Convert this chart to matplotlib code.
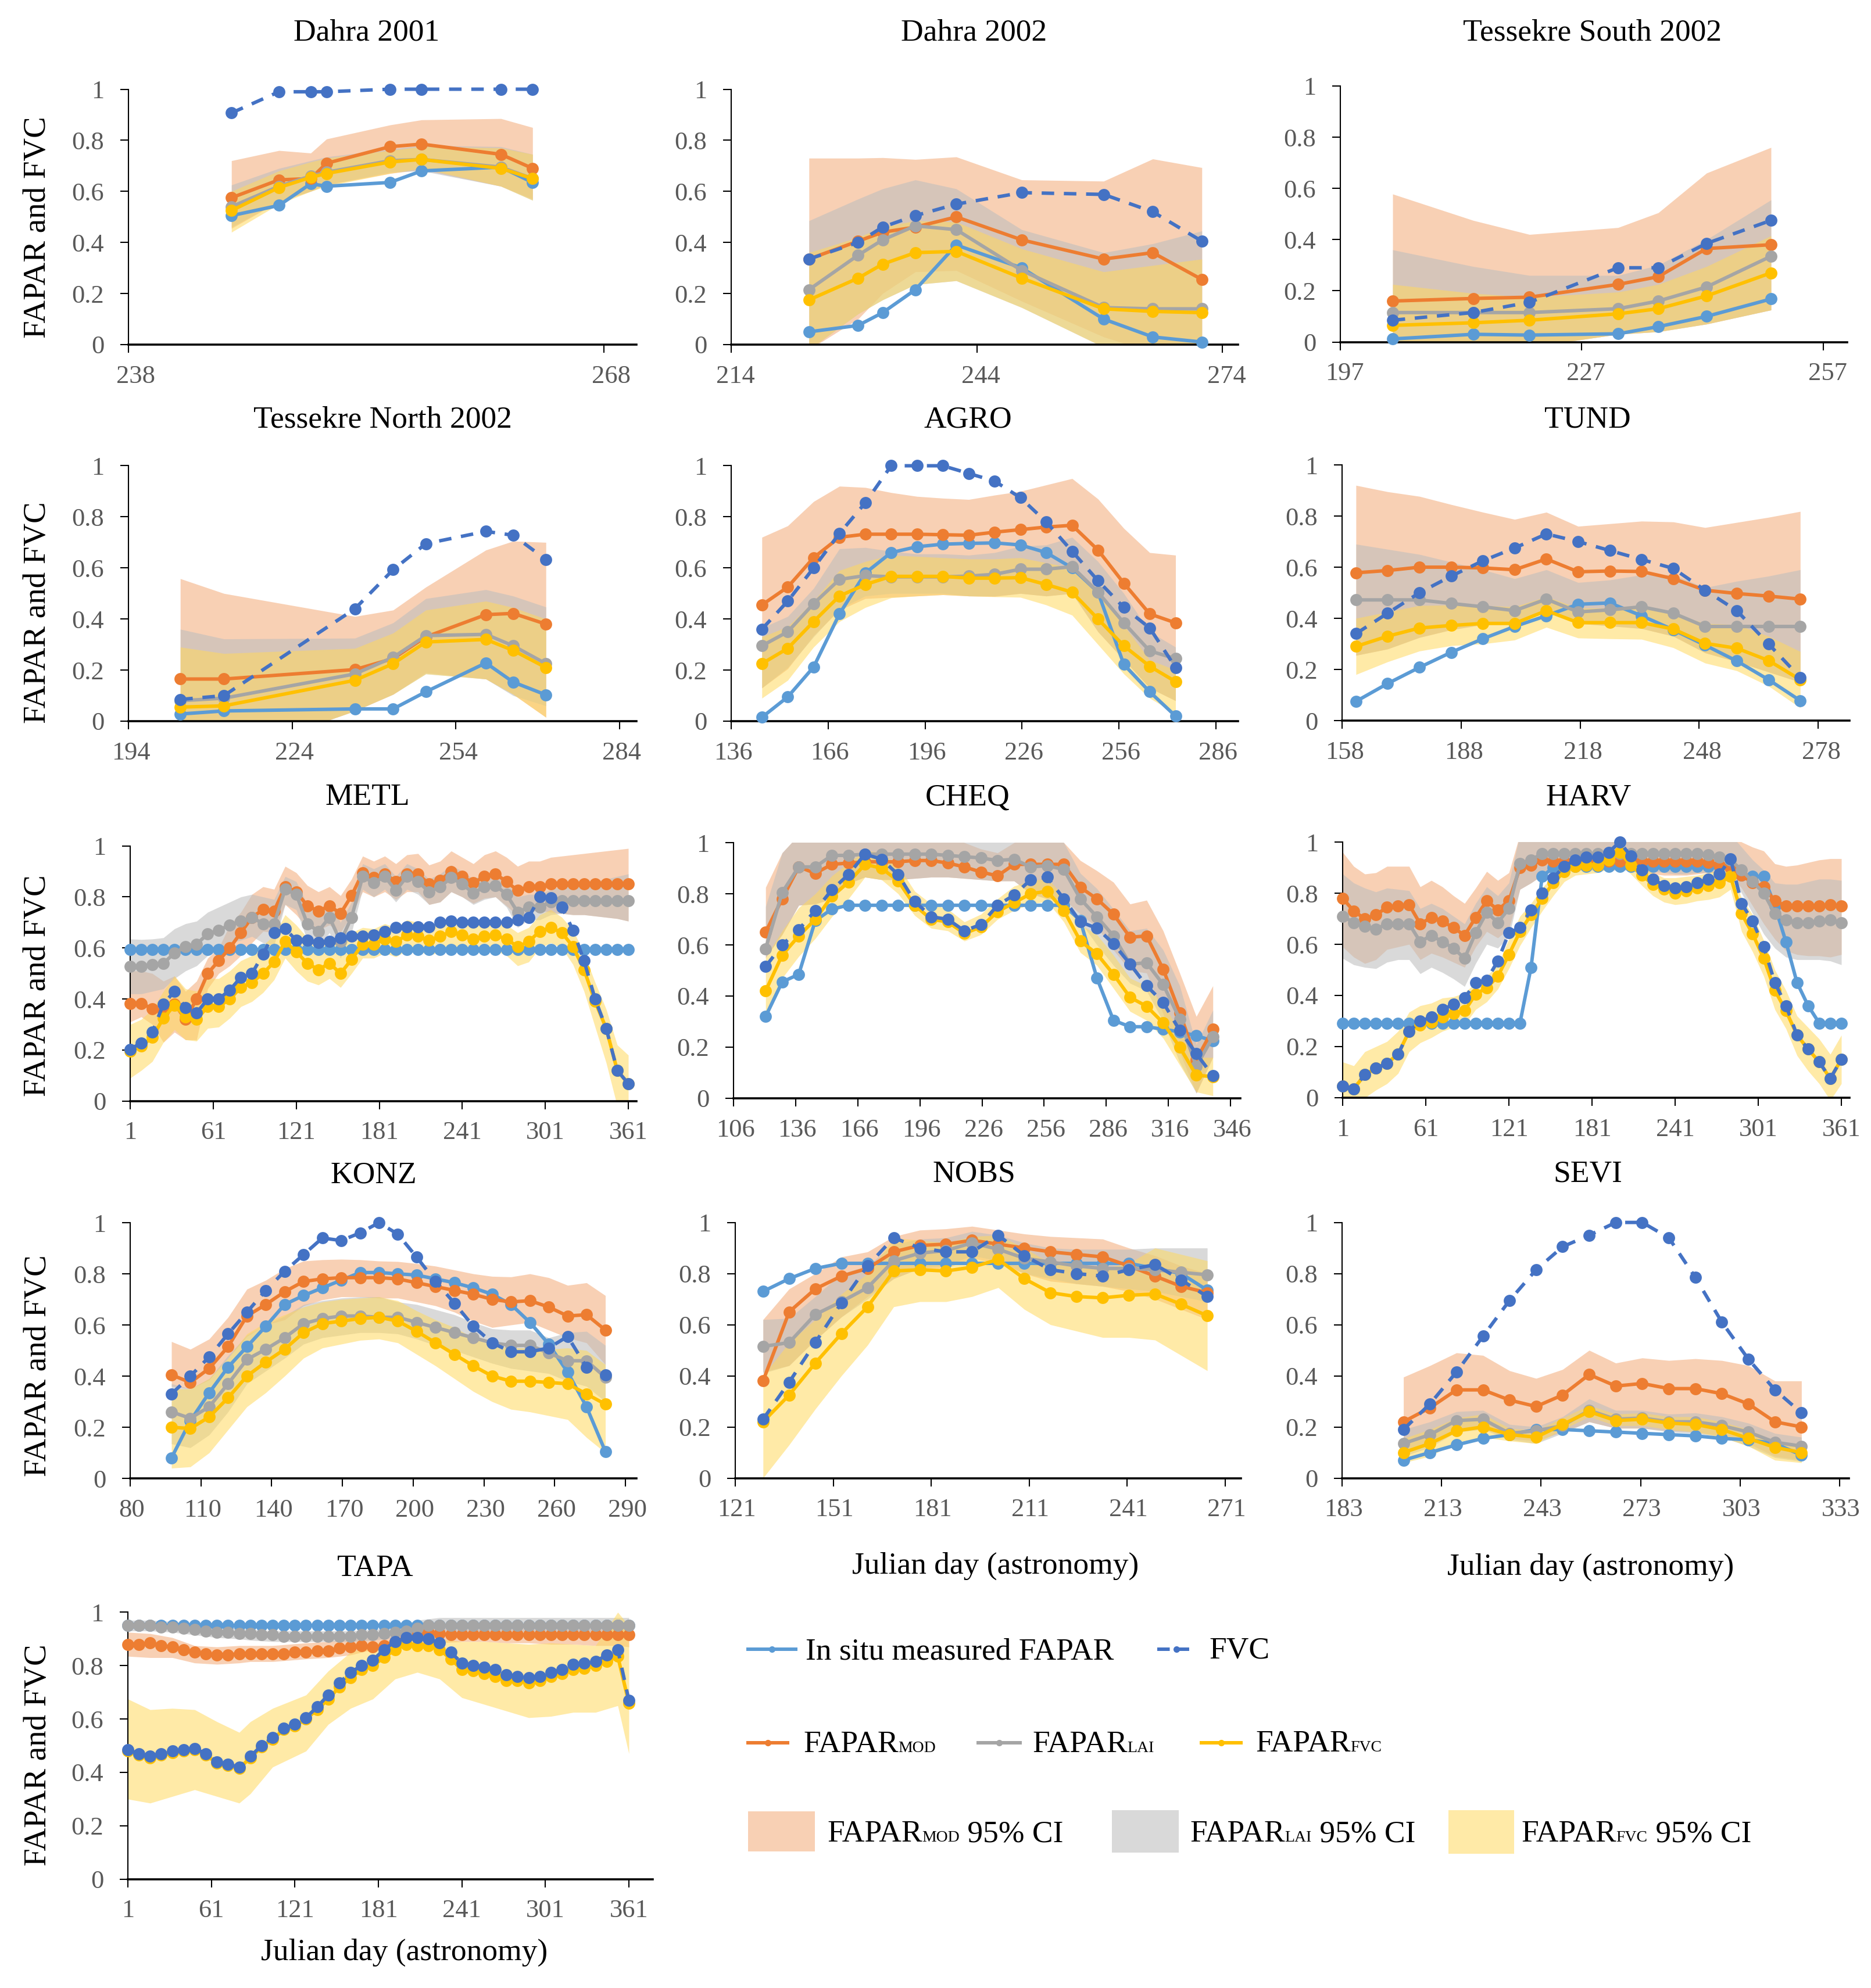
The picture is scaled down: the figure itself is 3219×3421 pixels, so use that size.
import matplotlib
matplotlib.use("Agg")
import matplotlib.pyplot as plt
import matplotlib.transforms as mtransforms
from matplotlib.patches import Rectangle

# colours
C_INSITU = '#5B9BD5'
C_FVC = '#4472C4'
C_MOD = '#ED7D31'
C_LAI = '#A5A5A5'
C_FF = '#FFC000'
C_TICK = '#595959'
# band fills, picked so the overlaps come out like the original
F_MOD, A_MOD = '#ED7D31', 0.36
F_LAI, A_LAI = '#BEBEBE', 0.58
F_FF, A_FF = '#FFD95F', 0.55

FIG_W, FIG_H = 3219, 3421

# --- Dahra 2001
dahra01_x = [244.5, 247.5, 249.5, 250.5, 254.5, 256.5, 261.5, 263.5]
dahra01_insitu = [.505, .545, .63, .62, .635, .68, .695, .635]
dahra01_fvc = [.907, .99, .99, .99, 1, 1, 1, 1]
dahra01_mod = [.575, .645, .65, .71, .775, .785, .745, .69]
dahra01_lai = [.54, .62, .66, .675, .72, .725, .695, .65]
dahra01_ff = [.525, .615, .655, .67, .715, .725, .69, .65]
dahra01_mod_hi = [.72, .76, .75, .805, .86, .88, .885, .85]
dahra01_mod_lo = [.455, .56, .60, .625, .67, .685, .62, .57]
dahra01_lai_hi = [.625, .69, .72, .735, .765, .78, .775, .745]
dahra01_lai_lo = [.46, .56, .60, .625, .675, .68, .62, .565]
dahra01_ff_hi = [.60, .68, .715, .73, .76, .775, .77, .745]
dahra01_ff_lo = [.44, .55, .60, .62, .67, .69, .62, .565]

# --- Dahra 2002
dahra02_x = [223.5, 229.5, 232.5, 236.5, 241.5, 249.5, 259.5, 265.5, 271.5]
dahra02_insitu = [.05, .075, .125, .215, .39, .30, .10, .03, .01]
dahra02_fvc = [.335, .40, .46, .505, .55, .595, .588, .52, .405]
dahra02_mod = [.335, .405, .44, .46, .50, .41, .335, .36, .255]
dahra02_lai = [.215, .35, .41, .465, .45, .29, .145, .14, .14]
dahra02_ff = [.175, .26, .315, .36, .365, .26, .14, .13, .125]
dahra02_mod_hi = [.73, .73, .732, .725, .735, .645, .64, .727, .693]
dahra02_mod_lo = [-.02, .10, .20, .285, .29, .17, .03, -.03, -.05]
dahra02_lai_hi = [.485, .57, .61, .645, .61, .45, .36, .395, .445]
dahra02_lai_lo = [-.02, .12, .175, .235, .25, .145, -.01, -.03, -.05]
dahra02_ff_hi = [.36, .42, .46, .485, .48, .375, .285, .31, .335]
dahra02_ff_lo = [-.02, .12, .175, .235, .25, .145, -.01, -.03, -.05]

# --- Tessekre South 2002
tess_s_x = [203.5, 213.5, 220.5, 231.5, 236.5, 242.5, 250.5]
tess_s_insitu = [.012, .03, .027, .032, .06, .10, .168]
tess_s_fvc = [.085, .115, .155, .29, .29, .385, .475]
tess_s_mod = [.16, .17, .175, .225, .255, .365, .38]
tess_s_lai = [.115, .115, .115, .13, .16, .215, .335]
tess_s_ff = [.065, .075, .085, .11, .13, .18, .27]
tess_s_mod_hi = [.578, .475, .42, .447, .505, .66, .76]
tess_s_mod_lo = [-.10, -.06, -.02, .03, .04, .07, .125]
tess_s_lai_hi = [.36, .295, .26, .26, .30, .40, .555]
tess_s_lai_lo = [-.10, -.06, -.02, .03, .04, .07, .125]
tess_s_ff_hi = [.225, .19, .175, .195, .225, .295, .415]
tess_s_ff_lo = [-.10, -.06, -.02, .03, .04, .07, .125]

# --- Tessekre North 2002
tess_n_x = [203.5, 211.5, 235.5, 242.5, 248.5, 259.5, 264.5, 270.5]
tess_n_insitu = [.028, .04, .048, .048, .115, .228, .153, .103]
tess_n_fvc = [.085, .10, .44, .593, .695, .743, .728, .633]
tess_n_mod = [.165, .165, .202, .245, .33, .417, .422, .38]
tess_n_lai = [.08, .09, .185, .25, .335, .34, .295, .225]
tess_n_ff = [.055, .06, .16, .225, .31, .32, .277, .21]
tess_n_mod_hi = [.558, .50, .41, .435, .525, .67, .705, .70]
tess_n_mod_lo = [-.30, -.14, .04, .105, .19, .165, .105, .015]
tess_n_lai_hi = [.36, .322, .325, .385, .48, .515, .49, .447]
tess_n_lai_lo = [-.30, -.14, .04, .105, .185, .165, .10, .06]
tess_n_ff_hi = [.29, .265, .285, .345, .435, .47, .445, .40]
tess_n_ff_lo = [-.30, -.14, .04, .105, .185, .165, .105, .015]

# --- AGRO
agro_x = [145.5, 153.5, 161.5, 169.5, 177.5, 185.5, 193.5, 201.5, 209.5, 217.5, 225.5, 233.5, 241.5, 249.5, 257.5, 265.5, 273.5]
agro_insitu = [.015, .095, .212, .42, .58, .66, .683, .693, .696, .698, .69, .66, .60, .505, .222, .115, .02]
agro_fvc = [.36, .47, .60, .735, .855, 1, 1, 1, .97, .94, .875, .78, .665, .55, .445, .365, .21]
agro_mod = [.455, .525, .64, .72, .732, .732, .732, .73, .728, .74, .75, .76, .767, .67, .54, .42, .385]
agro_lai = [.295, .35, .46, .555, .57, .565, .565, .565, .568, .575, .595, .595, .605, .505, .385, .275, .245]
agro_ff = [.225, .285, .39, .49, .535, .567, .567, .567, .56, .56, .562, .535, .505, .40, .295, .215, .155]
agro_mod_hi = [.72, .765, .86, .92, .915, .895, .88, .873, .868, .885, .90, .925, .95, .87, .755, .66, .65]
agro_mod_lo = [.13, .205, .335, .435, .48, .485, .49, .495, .49, .488, .50, .49, .50, .35, .24, .13, .08]
agro_lai_hi = [.365, .41, .52, .675, .68, .665, .655, .655, .65, .66, .685, .69, .72, .625, .50, .35, .29]
agro_lai_lo = [.13, .21, .33, .44, .49, .50, .50, .50, .49, .49, .50, .49, .50, .35, .24, .13, .08]
agro_ff_hi = [.33, .37, .47, .59, .625, .65, .645, .64, .635, .635, .64, .62, .60, .50, .375, .24, .20]
agro_ff_lo = [.09, .16, .29, .39, .445, .483, .49, .495, .49, .487, .485, .455, .415, .30, .185, .09, .03]

# --- TUND
tund_x = [161.5, 169.5, 177.5, 185.5, 193.5, 201.5, 209.5, 217.5, 225.5, 233.5, 241.5, 249.5, 257.5, 265.5, 273.5]
tund_insitu = [.075, .145, .208, .267, .32, .368, .41, .455, .46, .41, .355, .295, .233, .16, .078]
tund_fvc = [.34, .42, .50, .565, .625, .675, .73, .70, .665, .63, .595, .51, .43, .30, .168]
tund_mod = [.578, .587, .60, .60, .597, .59, .632, .582, .585, .583, .555, .51, .497, .487, .475]
tund_lai = [.472, .472, .472, .458, .445, .43, .475, .425, .433, .445, .42, .368, .368, .368, .368]
tund_ff = [.29, .33, .362, .372, .38, .38, .43, .383, .383, .383, .358, .302, .283, .235, .16]
tund_mod_hi = [.92, .895, .877, .845, .815, .787, .815, .76, .77, .78, .777, .755, .775, .795, .818]
tund_mod_lo = [.255, .28, .325, .355, .375, .385, .44, .38, .37, .36, .33, .265, .23, .19, .15]
tund_lai_hi = [.69, .67, .65, .62, .59, .555, .59, .54, .55, .57, .57, .52, .545, .565, .59]
tund_lai_lo = [.255, .28, .325, .355, .375, .385, .44, .38, .37, .36, .33, .265, .23, .19, .15]
tund_ff_hi = [.40, .425, .45, .452, .45, .445, .485, .44, .44, .445, .42, .38, .375, .33, .27]
tund_ff_lo = [.18, .23, .272, .293, .30, .315, .365, .323, .32, .318, .285, .225, .195, .135, .05]

# --- shared 8 day axis (METL, HARV, TAPA)
year_x = [1, 9, 17, 25, 33, 41, 49, 57, 65, 73, 81, 89, 97, 105, 113, 121, 129, 137, 145, 153, 161, 169, 177, 185,
          193, 201, 209, 217, 225, 233, 241, 249, 257, 265, 273, 281, 289, 297, 305, 313, 321, 329, 337, 345, 353, 361]

# --- METL
metl_insitu = [.593, .593, .593, .593, .593, .593, .593, .593, .593, .593, .593, .593, .593, .593, .593, .593, .593, .593, .593, .593, .593, .593, .593,
               .593, .593, .593, .593, .593, .593, .593, .593, .593, .593, .593, .593, .593, .593, .593, .593, .593, .593, .593, .593, .593, .593, .593]
metl_fvc = [.203, .228, .27, .38, .43, .365, .345, .40, .40, .435, .485, .50, .575, .66, .675, .63, .63, .62, .625, .64, .645, .645, .65,
            .665, .68, .683, .683, .683, .70, .705, .70, .70, .70, .70, .70, .71, .72, .80, .797, .76, .67, .55, .40, .285, .12, .068]
metl_mod = [.383, .383, .362, .35, .38, .32, .40, .50, .55, .60, .66, .72, .75, .745, .84, .82, .765, .745, .765, .735, .805, .895, .875,
            .89, .86, .89, .89, .85, .865, .90, .88, .855, .88, .89, .86, .825, .84, .84, .85, .85, .85, .85, .85, .85, .85, .85]
metl_lai = [.527, .527, .535, .54, .58, .605, .615, .655, .67, .69, .705, .72, .695, .695, .83, .81, .695, .665, .72, .625, .72, .88, .855,
            .88, .825, .88, .86, .82, .84, .875, .85, .815, .84, .845, .81, .74, .76, .76, .78, .785, .785, .785, .785, .785, .785, .785]
metl_ff = [.195, .215, .25, .325, .375, .33, .32, .37, .37, .40, .445, .465, .50, .545, .625, .585, .54, .515, .54, .50, .555, .615, .615,
           .635, .625, .65, .645, .63, .645, .665, .65, .635, .645, .65, .635, .605, .625, .665, .68, .66, .605, .515, .39, .285, .12, .068]
metl_mod_hi = [.51, .51, .50, .47, .49, .43, .47, .56, .60, .69, .74, .81, .84, .83, .92, .895, .845, .82, .84, .805, .87, .96, .94,
               .96, .93, .965, .97, .925, .94, .98, .955, .93, .965, .98, .955, .92, .94, .94, .955, .96, .965, .97, .975, .98, .985, .99]
metl_mod_lo = [.31, .33, .30, .23, .27, .24, .24, .44, .50, .53, .57, .62, .665, .66, .77, .73, .68, .67, .69, .66, .73, .82, .80,
               .82, .79, .82, .82, .77, .78, .82, .80, .775, .795, .80, .765, .725, .745, .745, .74, .735, .73, .73, .725, .72, .715, .705]
metl_lai_hi = [.635, .633, .635, .64, .675, .695, .705, .74, .76, .78, .80, .81, .80, .79, .88, .86, .77, .74, .78, .70, .78, .93, .91,
               .93, .88, .93, .91, .87, .89, .925, .90, .87, .89, .90, .86, .80, .81, .81, .83, .84, .845, .85, .86, .87, .88, .89]
metl_lai_lo = [.42, .42, .43, .44, .48, .51, .53, .57, .59, .62, .63, .645, .62, .61, .77, .75, .63, .60, .66, .56, .66, .83, .80,
               .83, .78, .83, .81, .77, .78, .82, .80, .77, .79, .80, .76, .68, .71, .71, .73, .735, .73, .73, .725, .72, .715, .705]
metl_ff_hi = [.30, .32, .36, .43, .49, .44, .43, .48, .48, .51, .55, .57, .61, .65, .73, .69, .64, .62, .645, .60, .66, .68, .675,
              .695, .68, .71, .70, .69, .70, .72, .705, .69, .70, .715, .69, .66, .68, .73, .75, .72, .67, .58, .465, .36, .22, .18]
metl_ff_lo = [.09, .12, .155, .23, .28, .24, .235, .285, .29, .325, .37, .39, .425, .475, .56, .51, .47, .455, .48, .445, .50, .56, .56,
              .58, .565, .59, .59, .57, .585, .60, .59, .575, .59, .59, .57, .53, .545, .60, .62, .60, .535, .43, .29, .15, -.02, -.05]

# --- CHEQ
cheq_x = [121.5, 129.5, 137.5, 145.5, 153.5, 161.5, 169.5, 177.5, 185.5, 193.5, 201.5, 209.5, 217.5, 225.5,
          233.5, 241.5, 249.5, 257.5, 265.5, 273.5, 281.5, 289.5, 297.5, 305.5, 313.5, 321.5, 329.5, 337.5]
cheq_insitu = [.32, .455, .485, .695, .74, .755, .755, .755, .755, .755, .755, .755, .755, .755,
               .755, .755, .755, .755, .755, .695, .47, .305, .28, .28, .27, .26, .245, .225]
cheq_fvc = [.515, .60, .66, .735, .815, .875, .955, .935, .875, .77, .71, .70, .655, .68,
            .755, .795, .855, .865, .78, .69, .665, .605, .525, .44, .375, .265, .175, .088]
cheq_mod = [.65, .78, .905, .88, .915, .92, .925, .925, .925, .93, .93, .92, .905, .885,
            .87, .915, .915, .915, .915, .825, .78, .72, .63, .635, .505, .335, .15, .27]
cheq_lai = [.585, .805, .905, .905, .95, .95, .955, .955, .955, .955, .955, .95, .945, .94,
            .93, .935, .905, .91, .895, .78, .71, .635, .525, .53, .445, .31, .125, .24]
cheq_ff = [.42, .56, .635, .70, .79, .845, .915, .90, .85, .755, .70, .69, .645, .67,
           .73, .765, .80, .81, .735, .615, .565, .485, .395, .36, .295, .20, .09, .085]
cheq_mod_hi = [.825, .96, 1.03, 1.03, 1.03, 1.03, 1.03, 1.03, 1.03, 1.03, 1.03, 1.03, 1.0, .975,
               .96, 1.0, 1.02, 1.02, 1.0, .93, .89, .845, .76, .775, .655, .49, .32, .44]
cheq_mod_lo = [.55, .64, .755, .76, .78, .84, .865, .855, .855, .86, .865, .865, .86, .855,
               .85, .85, .80, .78, .78, .72, .67, .58, .50, .49, .33, .18, .02, .16]
cheq_lai_hi = [.75, .96, 1.03, 1.03, 1.03, 1.03, 1.03, 1.03, 1.03, 1.03, 1.03, 1.03, 1.03, 1.03,
               1.03, 1.03, 1.03, 1.03, 1.0, .88, .82, .74, .655, .665, .58, .44, .21, .345]
cheq_lai_lo = [.55, .64, .755, .76, .78, .84, .865, .855, .855, .86, .865, .865, .86, .855,
               .85, .85, .80, .78, .78, .69, .60, .52, .45, .42, .30, .14, .02, .16]
cheq_ff_hi = [.55, .655, .745, .80, .87, .92, .97, .96, .91, .81, .76, .74, .69, .72,
              .78, .83, .85, .86, .79, .68, .64, .56, .47, .44, .37, .26, .16, .16]
cheq_ff_lo = [.30, .47, .555, .625, .71, .78, .865, .855, .80, .715, .665, .655, .615, .64,
              .70, .735, .76, .77, .69, .57, .52, .43, .34, .305, .235, .13, .025, .01]

# --- HARV
harv_insitu = [.292, .292, .292, .292, .292, .292, .292, .292, .292, .292, .292, .292, .292, .292, .292, .292, .292, .51, .865, .90, .905, .905, .905,
               .905, .905, .905, .905, .905, .905, .905, .905, .905, .905, .905, .905, .905, .87, .865, .865, .75, .61, .45, .36, .292, .292, .292]
harv_fvc = [.045, .035, .09, .115, .135, .17, .26, .30, .315, .345, .365, .39, .45, .46, .535, .645, .665, .735, .80, .86, .905, .93, .94,
            .94, .96, 1.0, .945, .89, .855, .83, .82, .825, .84, .855, .875, .935, .76, .69, .59, .45, .36, .245, .19, .14, .075, .15]
harv_mod = [.78, .73, .70, .715, .745, .75, .755, .68, .705, .69, .665, .635, .705, .77, .735, .77, .90, .91, .93, .925, .925, .925, .925,
            .925, .925, .925, .925, .925, .925, .925, .925, .925, .925, .92, .91, .90, .87, .84, .825, .77, .75, .75, .75, .75, .755, .75]
harv_lai = [.71, .685, .67, .66, .68, .68, .68, .61, .635, .61, .585, .545, .645, .725, .685, .74, .915, .93, .955, .955, .955, .955, .955,
            .955, .955, .955, .955, .955, .955, .955, .955, .955, .955, .95, .94, .93, .89, .845, .80, .72, .695, .685, .685, .69, .695, .685]
harv_ff = [.045, .035, .09, .115, .135, .17, .26, .285, .295, .315, .33, .34, .405, .43, .475, .56, .65, .715, .78, .84, .885, .905, .91,
           .91, .93, .96, .91, .87, .835, .815, .80, .81, .82, .83, .84, .865, .72, .64, .545, .42, .34, .245, .19, .14, .075, .15]
harv_mod_hi = [.96, .905, .875, .88, .905, .905, .905, .825, .85, .825, .79, .76, .82, .885, .85, .88, 1.03, 1.03, 1.03, 1.03, 1.03, 1.03, 1.03,
               1.03, 1.03, 1.03, 1.03, 1.03, 1.03, 1.03, 1.03, 1.03, 1.03, 1.03, 1.03, 1.03, 1.0, .98, .965, .915, .905, .91, .92, .93, .935, .935]
harv_mod_lo = [.59, .55, .525, .54, .58, .59, .60, .54, .565, .55, .53, .51, .59, .65, .625, .66, .815, .84, .87, .885, .89, .89, .89,
               .89, .89, .89, .89, .88, .875, .87, .87, .87, .875, .88, .88, .87, .82, .75, .68, .62, .575, .56, .555, .555, .55, .56]
harv_lai_hi = [.875, .84, .82, .805, .82, .815, .81, .74, .76, .74, .71, .68, .76, .825, .79, .84, 1.03, 1.03, 1.03, 1.03, 1.03, 1.03, 1.03,
               1.03, 1.03, 1.03, 1.03, 1.03, 1.03, 1.03, 1.03, 1.03, 1.03, 1.03, 1.03, 1.03, .98, .93, .89, .84, .835, .835, .845, .855, .855, .85]
harv_lai_lo = [.545, .52, .51, .505, .53, .54, .54, .485, .51, .49, .465, .435, .525, .60, .585, .63, .815, .84, .87, .885, .89, .89, .89,
               .89, .89, .89, .89, .89, .885, .88, .875, .875, .88, .88, .88, .87, .80, .72, .64, .585, .55, .54, .54, .54, .535, .52]
harv_ff_hi = [.14, .125, .18, .20, .22, .26, .335, .36, .37, .39, .395, .41, .45, .475, .52, .62, .71, .76, .82, .87, .91, .92, .93,
              .93, .945, .98, .935, .90, .88, .86, .86, .865, .87, .88, .89, .90, .78, .715, .615, .50, .42, .32, .275, .23, .17, .245]
harv_ff_lo = [-.02, -.03, 0, .03, .055, .095, .18, .215, .235, .26, .275, .285, .345, .375, .425, .505, .595, .665, .73, .79, .845, .87, .875,
              .88, .895, .915, .875, .83, .79, .765, .755, .76, .77, .775, .785, .815, .65, .57, .475, .345, .27, .165, .105, .055, -.01, .055]

# --- KONZ
konz_x = [97.5, 105.5, 113.5, 121.5, 129.5, 137.5, 145.5, 153.5, 161.5, 169.5, 177.5, 185.5,
          193.5, 201.5, 209.5, 217.5, 225.5, 233.5, 241.5, 249.5, 257.5, 265.5, 273.5, 281.5]
konz_insitu = [.08, .225, .335, .435, .515, .595, .68, .715, .745, .775, .805, .805,
               .80, .795, .78, .765, .745, .72, .68, .61, .525, .415, .28, .105]
konz_fvc = [.33, .40, .475, .565, .65, .735, .81, .875, .94, .93, .96, 1.0,
            .955, .865, .77, .685, .595, .53, .495, .495, .51, .555, .435, .405]
konz_mod = [.405, .375, .43, .515, .635, .68, .73, .77, .78, .785, .785, .785,
            .78, .765, .75, .735, .72, .70, .69, .695, .67, .635, .64, .58]
konz_lai = [.26, .235, .28, .37, .465, .505, .55, .605, .625, .635, .635, .63,
            .63, .61, .59, .57, .55, .53, .52, .52, .49, .46, .46, .395]
konz_ff = [.20, .195, .24, .315, .40, .455, .505, .57, .605, .615, .625, .63,
           .615, .575, .53, .485, .44, .40, .38, .38, .375, .37, .33, .29]
konz_mod_hi = [.535, .505, .545, .63, .74, .775, .82, .85, .855, .857, .855, .85,
               .848, .84, .83, .815, .80, .79, .788, .80, .785, .755, .765, .715]
konz_mod_lo = [.36, .35, .385, .47, .555, .60, .62, .675, .698, .71, .71, .705,
               .705, .69, .675, .65, .615, .59, .60, .61, .58, .55, .53, .445]
konz_lai_hi = [.37, .35, .39, .48, .56, .60, .635, .68, .695, .705, .71, .71,
               .69, .68, .66, .64, .61, .585, .58, .58, .55, .57, .575, .52]
konz_lai_lo = [.135, .12, .17, .26, .37, .42, .47, .525, .55, .56, .57, .57,
               .565, .545, .52, .50, .475, .45, .43, .42, .41, .38, .36, .30]
konz_ff_hi = [.35, .35, .39, .47, .565, .61, .64, .67, .69, .70, .705, .71,
              .695, .655, .62, .59, .55, .52, .51, .51, .505, .51, .50, .445]
konz_ff_lo = [.04, .045, .10, .19, .28, .335, .40, .47, .51, .525, .54, .545,
              .53, .485, .44, .39, .34, .30, .27, .26, .245, .23, .16, .10]

# --- NOBS
nobs_x = [129.5, 137.5, 145.5, 153.5, 161.5, 169.5, 177.5, 185.5, 193.5, 201.5, 209.5, 217.5, 225.5, 233.5, 241.5, 249.5, 257.5, 265.5]
nobs_insitu = [.73, .78, .82, .84, .84, .84, .84, .84, .84, .84, .84, .84, .84, .84, .84, .82, .80, .735]
nobs_fvc = [.23, .375, .53, .685, .83, .94, .90, .885, .885, .95, .87, .815, .80, .79, .815, .835, .775, .71]
nobs_mod = [.38, .65, .74, .79, .82, .885, .91, .915, .93, .915, .90, .885, .875, .865, .83, .79, .75, .725]
nobs_lai = [.515, .53, .64, .69, .745, .85, .88, .89, .92, .895, .86, .845, .83, .82, .82, .815, .805, .795]
nobs_ff = [.22, .325, .45, .565, .67, .81, .815, .81, .825, .855, .78, .725, .71, .705, .715, .72, .68, .635]
nobs_mod_hi = [.62, .74, .80, .865, .885, .945, .97, .975, .985, .97, .955, .945, .94, .935, .90, .87, .83, .80]
nobs_mod_lo = [.415, .44, .54, .63, .71, .78, .82, .82, .86, .84, .80, .77, .76, .75, .73, .70, .66, .62]
nobs_lai_hi = [.62, .625, .71, .80, .83, .915, .935, .94, .965, .95, .92, .90, .895, .895, .895, .90, .90, .90]
nobs_lai_lo = [.41, .44, .54, .63, .70, .78, .82, .83, .87, .85, .80, .78, .76, .75, .74, .73, .71, .69]
nobs_ff_hi = [.40, .53, .62, .72, .80, .94, .93, .92, .945, .95, .90, .84, .83, .82, .84, .90, .875, .85]
nobs_ff_lo = [0, .13, .27, .40, .52, .67, .69, .69, .71, .745, .66, .60, .575, .55, .55, .54, .48, .42]

# --- SEVI
sevi_x = [201.5, 209.5, 217.5, 225.5, 233.5, 241.5, 249.5, 257.5, 265.5, 273.5, 281.5, 289.5, 297.5, 305.5, 313.5, 321.5]
sevi_insitu = [.07, .10, .13, .155, .17, .19, .19, .185, .18, .175, .17, .165, .155, .15, .135, .09]
sevi_fvc = [.19, .29, .415, .555, .695, .815, .905, .95, 1.0, 1.0, .94, .785, .61, .465, .345, .255]
sevi_mod = [.22, .275, .345, .345, .305, .28, .325, .405, .36, .37, .35, .35, .33, .29, .22, .20]
sevi_lai = [.135, .17, .225, .23, .175, .185, .205, .265, .23, .235, .22, .22, .205, .18, .14, .125]
sevi_ff = [.10, .135, .185, .20, .17, .16, .21, .26, .225, .23, .215, .21, .19, .155, .12, .10]
sevi_mod_hi = [.395, .44, .49, .48, .42, .39, .425, .50, .45, .47, .46, .467, .46, .44, .38, .38]
sevi_mod_lo = [.095, .13, .19, .195, .155, .145, .18, .22, .195, .195, .185, .18, .165, .135, .085, .07]
sevi_lai_hi = [.19, .22, .26, .265, .21, .20, .24, .31, .265, .265, .25, .255, .24, .215, .175, .16]
sevi_lai_lo = [.085, .12, .18, .19, .15, .135, .175, .22, .195, .195, .18, .175, .16, .125, .08, .065]
sevi_ff_hi = [.155, .19, .235, .25, .195, .185, .235, .285, .25, .255, .24, .24, .22, .19, .145, .125]
sevi_ff_lo = [.06, .085, .14, .16, .145, .135, .19, .24, .205, .205, .19, .18, .16, .125, .07, .06]

# --- TAPA
tapa_insitu = [.95, .95, .95, .95, .95, .95, .95, .95, .95, .95, .95, .95, .95, .95, .95, .95, .95, .95, .95, .95, .95, .95, .95,
               .95, .95, .95, .95, .95, .95, .95, .95, .95, .95, .95, .95, .95, .95, .95, .95, .95, .95, .95, .95, .95, .95, .95]
tapa_fvc = [.485, .47, .46, .47, .48, .485, .49, .47, .44, .43, .42, .46, .50, .53, .565, .58, .605, .645, .69, .735, .775, .80, .82,
            .86, .89, .905, .905, .90, .885, .85, .81, .80, .795, .785, .765, .76, .755, .76, .775, .785, .805, .81, .815, .84, .86, .67]
tapa_mod = [.88, .88, .885, .875, .87, .86, .85, .845, .84, .84, .845, .845, .845, .845, .845, .85, .85, .855, .855, .865, .87, .875, .87,
            .875, .89, .905, .92, .925, .92, .915, .915, .915, .915, .915, .915, .915, .915, .915, .915, .915, .915, .915, .915, .915, .915, .915]
tapa_lai = [.95, .95, .95, .945, .945, .94, .935, .93, .925, .925, .92, .92, .915, .915, .91, .91, .91, .91, .91, .91, .91, .915, .915,
            .92, .925, .93, .94, .95, .95, .95, .95, .95, .95, .95, .95, .95, .95, .95, .95, .95, .95, .95, .95, .95, .95, .95]
tapa_ff = [.48, .465, .455, .465, .475, .48, .485, .465, .435, .425, .415, .455, .495, .525, .56, .575, .60, .635, .675, .72, .755, .785, .80,
           .83, .86, .88, .875, .875, .86, .825, .785, .78, .77, .76, .745, .745, .735, .745, .76, .77, .785, .79, .80, .815, .835, .66]
tapa_band_x = [1, 17, 33, 49, 65, 81, 89, 105, 129, 145, 161, 177, 193, 209, 225, 241, 257, 273, 289, 305, 321, 337, 353, 361]
tapa_mod_hi = [.925, .92, .905, .875, .87, .875, .875, .875, .885, .89, .90, .905, .93, .96, .95, .945, .945, .945, .945, .945, .945, .945, .945, .945]
tapa_mod_lo = [.835, .83, .83, .81, .805, .81, .815, .815, .825, .83, .84, .86, .875, .88, .885, .89, .89, .885, .885, .88, .88, .875, .875, .87]
tapa_lai_hi = [.97, .97, .965, .955, .945, .94, .935, .93, .93, .93, .93, .935, .945, .97, .98, .98, .98, .98, .98, .98, .98, .98, .98, .98]
tapa_lai_lo = [.93, .93, .925, .915, .905, .90, .895, .89, .89, .89, .89, .895, .905, .93, .93, .925, .925, .925, .925, .925, .925, .925, .925, .925]
tapa_ff_hi = [.675, .635, .64, .635, .59, .55, .59, .64, .69, .78, .85, .88, .90, .93, .90, .89, .89, .885, .88, .885, .88, .875, 1.0, .95]
tapa_ff_lo = [.30, .285, .31, .335, .31, .285, .32, .42, .48, .58, .64, .675, .75, .775, .75, .68, .655, .63, .605, .61, .625, .625, .65, .47]

# tick labels of each panel
dahra01_ticks = [238, 268]
dahra02_ticks = [214, 244, 274]
tess_s_ticks = [197, 227, 257]
tess_n_ticks = [194, 224, 254, 284]
agro_ticks = [136, 166, 196, 226, 256, 286]
tund_ticks = [158, 188, 218, 248, 278]
year_ticks = [1, 61, 121, 181, 241, 301, 361]
cheq_ticks = [106, 136, 166, 196, 226, 256, 286, 316, 346]
konz_ticks = [80, 110, 140, 170, 200, 230, 260, 290]
nobs_ticks = [121, 151, 181, 211, 241, 271]
sevi_ticks = [183, 213, 243, 273, 303, 333]
y_ticks = [0, .2, .4, .6, .8, 1]
y_tick_labels = ['0', '0.2', '0.4', '0.6', '0.8', '1']


def px_axes(fig, left, right, top, bottom):
    # axes from pixel edges (y counted from the top of the picture)
    return fig.add_axes([left / FIG_W, 1 - bottom / FIG_H, (right - left) / FIG_W, (bottom - top) / FIG_H])


def draw_panel(fig, title, tpos, box, shift_px, ticks, x, insitu, fvc, mod, lai, ff,
               mod_hi, mod_lo, lai_hi, lai_lo, ff_hi, ff_lo, band_x=None):
    left, last_tick, right, top, bottom = box
    ax = px_axes(fig, left, right, top, bottom)
    ax.patch.set_alpha(0)
    if band_x is None:
        band_x = x
    ax.fill_between(band_x, mod_lo, mod_hi, color=F_MOD, alpha=A_MOD, lw=0, zorder=1)
    ax.fill_between(band_x, lai_lo, lai_hi, color=F_LAI, alpha=A_LAI, lw=0, zorder=1.1)
    ax.fill_between(band_x, ff_lo, ff_hi, color=F_FF, alpha=A_FF, lw=0, zorder=1.2)

    style = dict(marker='o', ms=15, mew=0, lw=LW, clip_on=False)
    ax.plot(x, insitu, color=C_INSITU, zorder=3, **style)
    ax.plot(x, mod, color=C_MOD, zorder=3.1, **style)
    ax.plot(x, lai, color=C_LAI, zorder=3.2, **style)
    ax.plot(x, ff, color=C_FF, zorder=3.3, **style)
    ax.plot(x, fvc, color=C_FVC, zorder=3.4, dashes=(3.6, 2.8), **style)

    per_px = (ticks[-1] - ticks[0]) / (last_tick - left)
    ax.set_xlim(ticks[0], ticks[0] + (right - left) * per_px)
    ax.set_ylim(0, 1)
    ax.set_xticks(ticks)
    ax.set_xticklabels([str(t) for t in ticks])
    ax.set_yticks(y_ticks)
    ax.set_yticklabels(y_tick_labels)
    ax.tick_params(axis='both', labelsize=TICK_SIZE, labelcolor=C_TICK, length=10, width=1.5, color='black')
    ax.tick_params(axis='x', pad=15)
    ax.tick_params(axis='y', pad=20)
    shift = mtransforms.ScaledTranslation(shift_px / 100, 0, fig.dpi_scale_trans)
    for lab in ax.get_xticklabels():
        lab.set_transform(lab.get_transform() + shift)
    for s in ['top', 'right']:
        ax.spines[s].set_visible(False)
    ax.spines['left'].set_linewidth(1.5)
    ax.spines['bottom'].set_linewidth(2.6)

    over.text(tpos[0], tpos[1], title, ha='center', va='center', fontsize=FONT_SIZE, color='black')
    return ax


def sub_text(x, y, big, small, tail=''):
    # FAPAR with its small suffix, drawn in pieces on the same baseline
    rend = fig.canvas.get_renderer()
    for s, size in ((big, FONT_SIZE), (small, SUB_SIZE), (tail, FONT_SIZE)):
        if not s:
            continue
        t = over.text(x, y, s, ha='left', va='baseline', fontsize=size)
        x = over.transData.inverted().transform(t.get_window_extent(rend))[1][0]


plt.rcParams['font.family'] = ['Liberation Serif', 'DejaVu Serif']
LW = 4.3
FONT_SIZE = 38.5
TICK_SIZE = 32
SUB_SIZE = 20

fig = plt.figure(figsize=(FIG_W / 100, FIG_H / 100), dpi=100, facecolor='white')
over = fig.add_axes([0, 0, 1, 1], zorder=10)
over.set_xlim(0, FIG_W)
over.set_ylim(FIG_H, 0)
over.axis('off')

draw_panel(fig, 'Dahra 2001', (631, 57), (221, 1039, 1095, 153.5, 593), 13, dahra01_ticks, dahra01_x, dahra01_insitu, dahra01_fvc,
           dahra01_mod, dahra01_lai, dahra01_ff, dahra01_mod_hi, dahra01_mod_lo, dahra01_lai_hi, dahra01_lai_lo, dahra01_ff_hi, dahra01_ff_lo)
draw_panel(fig, 'Dahra 2002', (1676, 57), (1258, 2103, 2130, 153.5, 593), 7, dahra02_ticks, dahra02_x, dahra02_insitu, dahra02_fvc,
           dahra02_mod, dahra02_lai, dahra02_ff, dahra02_mod_hi, dahra02_mod_lo, dahra02_lai_hi, dahra02_lai_lo, dahra02_ff_hi, dahra02_ff_lo)
draw_panel(fig, 'Tessekre South 2002', (2740, 57), (2306, 3137, 3178, 148, 588.5), 7, tess_s_ticks, tess_s_x, tess_s_insitu, tess_s_fvc,
           tess_s_mod, tess_s_lai, tess_s_ff, tess_s_mod_hi, tess_s_mod_lo, tess_s_lai_hi, tess_s_lai_lo, tess_s_ff_hi, tess_s_ff_lo)
draw_panel(fig, 'Tessekre North 2002', (659, 722), (221, 1066, 1095, 801.5, 1241), 4, tess_n_ticks, tess_n_x, tess_n_insitu, tess_n_fvc,
           tess_n_mod, tess_n_lai, tess_n_ff, tess_n_mod_hi, tess_n_mod_lo, tess_n_lai_hi, tess_n_lai_lo, tess_n_ff_hi, tess_n_ff_lo)
draw_panel(fig, 'AGRO', (1665, 722), (1258, 2092, 2130, 801.5, 1241), 3, agro_ticks, agro_x, agro_insitu, agro_fvc,
           agro_mod, agro_lai, agro_ff, agro_mod_hi, agro_mod_lo, agro_lai_hi, agro_lai_lo, agro_ff_hi, agro_ff_lo)
draw_panel(fig, 'TUND', (2731, 722), (2309, 3128, 3182, 800, 1240), 5, tund_ticks, tund_x, tund_insitu, tund_fvc,
           tund_mod, tund_lai, tund_ff, tund_mod_hi, tund_mod_lo, tund_lai_hi, tund_lai_lo, tund_ff_hi, tund_ff_lo)
draw_panel(fig, 'METL', (632, 1372), (224, 1081, 1095, 1455.6, 1894.7), 0, year_ticks, year_x, metl_insitu, metl_fvc,
           metl_mod, metl_lai, metl_ff, metl_mod_hi, metl_mod_lo, metl_lai_hi, metl_lai_lo, metl_ff_hi, metl_ff_lo)
draw_panel(fig, 'CHEQ', (1665, 1372), (1262, 2117, 2134, 1450, 1890), 3, cheq_ticks, cheq_x, cheq_insitu, cheq_fvc,
           cheq_mod, cheq_lai, cheq_ff, cheq_mod_hi, cheq_mod_lo, cheq_lai_hi, cheq_lai_lo, cheq_ff_hi, cheq_ff_lo)
draw_panel(fig, 'HARV', (2733, 1372), (2310, 3168, 3182, 1449, 1889), 0, year_ticks, year_x, harv_insitu, harv_fvc,
           harv_mod, harv_lai, harv_ff, harv_mod_hi, harv_mod_lo, harv_lai_hi, harv_lai_lo, harv_ff_hi, harv_ff_lo)
draw_panel(fig, 'KONZ', (643, 2022), (224, 1076, 1095, 2104, 2544), 3, konz_ticks, konz_x, konz_insitu, konz_fvc,
           konz_mod, konz_lai, konz_ff, konz_mod_hi, konz_mod_lo, konz_lai_hi, konz_lai_lo, konz_ff_hi, konz_ff_lo)
draw_panel(fig, 'NOBS', (1676, 2020), (1265, 2108, 2135, 2103.6, 2543.5), 2, nobs_ticks, nobs_x, nobs_insitu, nobs_fvc,
           nobs_mod, nobs_lai, nobs_ff, nobs_mod_hi, nobs_mod_lo, nobs_lai_hi, nobs_lai_lo, nobs_ff_hi, nobs_ff_lo)
draw_panel(fig, 'SEVI', (2732, 2020), (2309, 3165, 3181, 2103.6, 2543.5), 2, sevi_ticks, sevi_x, sevi_insitu, sevi_fvc,
           sevi_mod, sevi_lai, sevi_ff, sevi_mod_hi, sevi_mod_lo, sevi_lai_hi, sevi_lai_lo, sevi_ff_hi, sevi_ff_lo)
draw_panel(fig, 'TAPA', (645, 2699), (220, 1082, 1123, 2774.4, 3233.7), 0, year_ticks, year_x, tapa_insitu, tapa_fvc,
           tapa_mod, tapa_lai, tapa_ff, tapa_mod_hi, tapa_mod_lo, tapa_lai_hi, tapa_lai_lo, tapa_ff_hi, tapa_ff_lo, band_x=tapa_band_x)

# y labels
for x, y in [(65, 391), (65, 1054), (65, 1696), (66, 2350), (66, 3020)]:
    over.text(x, y, 'FAPAR and FVC', rotation=90, ha='center', va='center', fontsize=39.5)

# x labels
for x, y in [(1713, 2695), (2737, 2697), (696, 3360)]:
    over.text(x, y, 'Julian day (astronomy)', ha='center', va='center', fontsize=FONT_SIZE)

# legend, row 1
over.plot([1287, 1369], [2838, 2838], color=C_INSITU, lw=LW)
over.plot([1328], [2838], color=C_INSITU, marker='o', ms=8, mew=0)
over.text(1386, 2856, 'In situ measured FAPAR', ha='left', va='baseline', fontsize=FONT_SIZE)
over.plot([1991, 2057], [2838, 2838], color=C_FVC, lw=LW, dashes=(3.6, 2.0))
over.plot([2024], [2838], color=C_FVC, marker='o', ms=8, mew=0)
over.text(2080, 2854, 'FVC', ha='left', va='baseline', fontsize=FONT_SIZE)

# legend, row 2
for x0, x1, col in [(1287, 1355, C_MOD), (1683, 1755, C_LAI), (2067, 2135, C_FF)]:
    over.plot([x0, x1], [2999, 2999], color=col, lw=LW)
    over.plot([(x0 + x1) / 2], [2999], color=col, marker='o', ms=8, mew=0)
sub_text(1382, 3015, 'FAPAR', 'MOD')
sub_text(1776, 3015, 'FAPAR', 'LAI')
sub_text(2160, 3014, 'FAPAR', 'FVC')

# legend, row 3
for x0, x1, y0, y1, col, alpha in [(1287, 1402, 3117, 3186, F_MOD, A_MOD), (1913, 2028, 3115, 3188, F_LAI, A_LAI), (2492, 2605, 3115, 3190, F_FF, A_FF)]:
    over.add_patch(Rectangle((x0, y0), x1 - x0, y1 - y0, facecolor=col, alpha=alpha, lw=0))
sub_text(1423, 3169, 'FAPAR', 'MOD', ' 95% CI')
sub_text(2047, 3169, 'FAPAR', 'LAI', ' 95% CI')
sub_text(2617, 3169, 'FAPAR', 'FVC', ' 95% CI')

fig.savefig('out.png', dpi=100)
